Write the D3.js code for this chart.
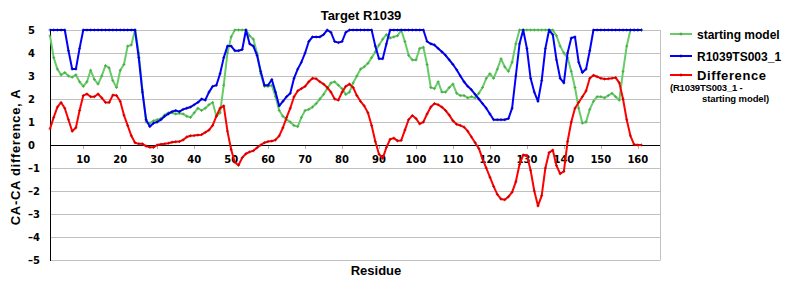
<!DOCTYPE html>
<html>
<head>
<meta charset="utf-8">
<script src="https://cdn.jsdelivr.net/npm/d3@7"></script>
<style>
body { margin: 0; background: #fff; }
svg { display: block; }
text { font-family: "Liberation Sans", Arial, sans-serif; font-weight: bold; fill: #000; }
.tick-lbl { font-family: "DejaVu Sans", Verdana, sans-serif; font-size: 10px; }
</style>
</head>
<body>
<svg width="800" height="300"></svg>
<script>
// CA-CA difference per residue (values above 5 are shown clipped at 5)
var residues = d3.range(1, 162)

var starting = [
	4.75, 3.8, 3.3, 3.05, 3.15, 3.0, 2.95, 3.05, 2.75, 2.55,
	2.75, 3.25, 2.85, 2.65, 3.0, 3.45, 3.35, 2.8, 2.5, 3.25,
	3.5, 4.3, 4.35, 5, 4.0, 2.4, 1.0, 0.95, 1.05, 1.1,
	1.15, 1.3, 1.4, 1.4, 1.35, 1.38, 1.35, 1.25, 1.2, 1.4,
	1.6, 1.5, 1.6, 1.75, 1.85, 1.25, 1.4, 2.6, 4.0, 4.7,
	5, 5, 5, 5, 4.75, 4.6, 4.0, 3.1, 2.55, 2.55,
	2.6, 2.1, 1.5, 1.25, 1.1, 1.0, 0.85, 0.8, 1.2, 1.5,
	1.55, 1.65, 1.8, 2.0, 2.2, 2.45, 2.7, 2.75, 2.6, 2.45,
	2.2, 2.3, 2.7, 3.0, 3.3, 3.4, 3.55, 3.8, 4.05, 4.35,
	4.6, 4.8, 4.65, 4.7, 4.75, 5, 4.5, 3.9, 3.7, 3.7,
	4.2, 4.25, 3.5, 2.5, 2.45, 2.75, 2.3, 2.3, 2.5, 2.65,
	2.25, 2.15, 2.15, 2.05, 2.1, 2.05, 2.25, 2.5, 2.9, 3.1,
	2.9, 3.3, 3.75, 3.4, 3.2, 3.6, 4.4, 5, 5, 5,
	5, 5, 5, 5, 5, 5, 5, 4.75, 4.3, 4.0,
	3.8, 3.2, 2.5, 1.6, 0.95, 1.0, 1.55, 1.9, 2.1, 2.1,
	2.05, 2.15, 2.25, 2.1, 1.95, 3.2, 4.3, 5, 5, 5,
	5
]

var model = [
	5, 5, 5, 5, 5, 4.1, 3.3, 3.3, 4.2, 5,
	5, 5, 5, 5, 5, 5, 5, 5, 5, 5,
	5, 5, 5, 5, 3.8, 2.3, 1.1, 0.8, 0.95, 1.0,
	1.1, 1.25, 1.35, 1.45, 1.5, 1.45, 1.55, 1.6, 1.65, 1.75,
	1.85, 2.0, 1.95, 2.3, 2.55, 2.6, 3.1, 3.8, 4.3, 4.3,
	4.1, 4.1, 4.15, 5, 4.4, 4.3, 3.9, 3.2, 2.6, 2.6,
	2.85, 2.3, 1.7, 1.9, 2.1, 2.25, 2.9, 3.3, 3.6, 4.0,
	4.5, 4.7, 4.7, 4.7, 4.8, 5, 4.9, 4.5, 4.45, 4.5,
	4.9, 5, 5, 5, 5, 5, 5, 5, 4.3, 3.75,
	3.75, 4.4, 5, 5, 5, 5, 5, 5, 5, 5,
	5, 5, 4.5, 4.4, 4.35, 4.2, 4.05, 3.9, 3.7, 3.5,
	3.27, 3.0, 2.75, 2.55, 2.4, 2.2, 2.0, 1.8, 1.6, 1.35,
	1.1, 1.1, 1.1, 1.1, 1.15, 1.6, 3.0, 4.4, 5, 4.2,
	2.9, 2.3, 1.9, 2.8, 4.2, 5, 4.8, 3.7, 2.9, 2.7,
	4.0, 4.65, 4.7, 3.6, 3.15, 3.3, 4.1, 5, 5, 5,
	5, 5, 5, 5, 5, 5, 5, 5, 5, 5,
	5
]

var difference = [
	0.7, 1.2, 1.65, 1.85, 1.6, 1.1, 0.6, 0.75, 1.5, 2.15,
	2.22, 2.1, 2.1, 2.22, 2.05, 1.85, 1.85, 2.17, 2.15, 1.9,
	1.3, 0.85, 0.4, 0.1, 0.05, 0.05, -0.05, -0.1, -0.1, 0.0,
	0.03, 0.05, 0.08, 0.12, 0.14, 0.15, 0.22, 0.35, 0.4, 0.41,
	0.43, 0.45, 0.55, 0.65, 0.85, 1.25, 1.6, 1.7, 0.6, -0.2,
	-0.75, -0.88, -0.55, -0.38, -0.3, -0.25, -0.12, 0.0, 0.1, 0.15,
	0.17, 0.22, 0.4, 0.75, 1.2, 1.6, 2.1, 2.35, 2.45, 2.55,
	2.75, 2.9, 2.88, 2.75, 2.65, 2.5, 2.3, 2.0, 1.95, 2.3,
	2.55, 2.65, 2.5, 2.15, 1.9, 1.7, 1.4, 0.85, 0.15, -0.4,
	-0.58, -0.1, 0.25, 0.3, 0.18, 0.2, 0.65, 1.1, 1.28, 1.15,
	0.92, 1.0, 1.35, 1.65, 1.8, 1.75, 1.65, 1.5, 1.3, 1.05,
	0.9, 0.85, 0.78, 0.6, 0.35, 0.1, -0.15, -0.6, -1.0, -1.4,
	-1.8, -2.15, -2.35, -2.38, -2.25, -2.05, -1.6, -0.85, -0.43, -0.45,
	-1.1, -2.0, -2.65, -2.2, -1.0, -0.33, -0.22, -0.9, -1.25, -1.15,
	0.15, 1.0, 1.6, 1.85, 2.1, 2.35, 2.9, 3.03, 2.97, 2.9,
	2.87, 2.88, 2.9, 2.93, 2.7, 2.0, 1.1, 0.4, 0.02, 0, 0
]

var xTicks = d3.range(10, 161, 10)
var yTicks = d3.range(-5, 6)

var series = [
	{name: 'starting model', values: starting, color: '#66cc66', mark: '#3f9f3f'},
	{name: 'R1039TS003_1', values: model, color: '#0000ff', mark: '#0000a0'},
	{name: 'Difference', values: difference, color: '#ff0000', mark: '#b00000'}
]

var svg = d3.select('svg')

var x = d3.scaleLinear().domain([1, 166]).range([50, 660])
var y = d3.scaleLinear().domain([-5, 5]).range([260, 30])

// grid
svg.append('g').selectAll('line')
	.data(yTicks.filter(function(d) {return d != 0}))
	.enter().append('line')
	.attr('x1', 50).attr('x2', 660)
	.attr('y1', function(d) {return y(d) + 0.5}).attr('y2', function(d) {return y(d) + 0.5})
	.attr('stroke', '#c0c0c0')

svg.append('line')
	.attr('x1', 660.5).attr('x2', 660.5).attr('y1', 30).attr('y2', 260.5)
	.attr('stroke', '#c0c0c0')

// y axis labels, left aligned like the original
svg.append('g').selectAll('text')
	.data(yTicks)
	.enter().append('text')
	.attr('class', 'tick-lbl')
	.attr('x', 28)
	.attr('y', function(d) {return y(d) + 4})
	.text(function(d) {return d < 0 ? '\u2013' + Math.abs(d) : d})

// zero line and left axis
svg.append('line')
	.attr('x1', 50).attr('x2', 660).attr('y1', y(0) + 0.5).attr('y2', y(0) + 0.5)
	.attr('stroke', '#000')
svg.append('line')
	.attr('x1', 50.5).attr('x2', 50.5).attr('y1', 30).attr('y2', 261)
	.attr('stroke', '#000')

// x ticks and labels
svg.append('g').selectAll('line')
	.data(xTicks)
	.enter().append('line')
	.attr('x1', function(d) {return Math.round(x(d)) + 0.5})
	.attr('x2', function(d) {return Math.round(x(d)) + 0.5})
	.attr('y1', y(0) + 1).attr('y2', y(0) + 4)
	.attr('stroke', '#b0b0b0')

svg.append('g').selectAll('text')
	.data(xTicks)
	.enter().append('text')
	.attr('class', 'tick-lbl')
	.attr('x', function(d) {return x(d)})
	.attr('y', 163)
	.attr('text-anchor', 'middle')
	.text(function(d) {return d})

// lines
var line = d3.line()
	.x(function(d, i) {return x(residues[i])})
	.y(function(d) {return y(d)})

var plus = 'M-1.5,0H1.5M0,-1.5V1.5'

series.forEach(function(s) {
	svg.append('path')
		.datum(s.values)
		.attr('d', line)
		.attr('fill', 'none')
		.attr('stroke', s.color)
		.attr('stroke-width', 2)
		.attr('stroke-linejoin', 'round')

	svg.append('g').selectAll('path')
		.data(s.values)
		.enter().append('path')
		.attr('d', plus)
		.attr('transform', function(d, i) {return 'translate(' + x(residues[i]) + ',' + y(d) + ')'})
		.attr('stroke', s.mark)
		.attr('stroke-width', 1)
		.attr('opacity', 0.7)
})

// titles
svg.append('text')
	.attr('x', 361).attr('y', 20)
	.attr('text-anchor', 'middle')
	.style('font-size', '13px')
	.text('Target R1039')

svg.append('text')
	.attr('x', 376).attr('y', 275)
	.attr('text-anchor', 'middle')
	.style('font-size', '13px')
	.text('Residue')

svg.append('text')
	.attr('transform', 'translate(20,157) rotate(-90)')
	.attr('text-anchor', 'middle')
	.style('font-size', '13px')
	.style('letter-spacing', '0.7px')
	.text('CA-CA difference, A')

// legend
var legendY = [34, 56, 75]
series.forEach(function(s, i) {
	svg.append('line')
		.attr('x1', 670).attr('x2', 692)
		.attr('y1', legendY[i]).attr('y2', legendY[i])
		.attr('stroke', s.color).attr('stroke-width', 2)
	svg.append('path')
		.attr('d', plus)
		.attr('transform', 'translate(681,' + legendY[i] + ')')
		.attr('stroke', s.mark)
	svg.append('text')
		.attr('x', 697).attr('y', legendY[i] + (i == 2 ? 4.5 : 4.5))
		.style('font-size', i == 2 ? '13px' : '12px')
		.style('letter-spacing', i == 2 ? '0.6px' : '0px')
		.text(s.name)
})

svg.append('text')
	.attr('x', 670).attr('y', 91)
	.style('font-size', '9.5px')
	.style('letter-spacing', '-0.2px')
	.text('(R1039TS003_1 -')
svg.append('text')
	.attr('x', 702).attr('y', 102)
	.style('font-size', '9.5px')
	.style('letter-spacing', '-0.1px')
	.text('starting model)')
</script>
</body>
</html>
